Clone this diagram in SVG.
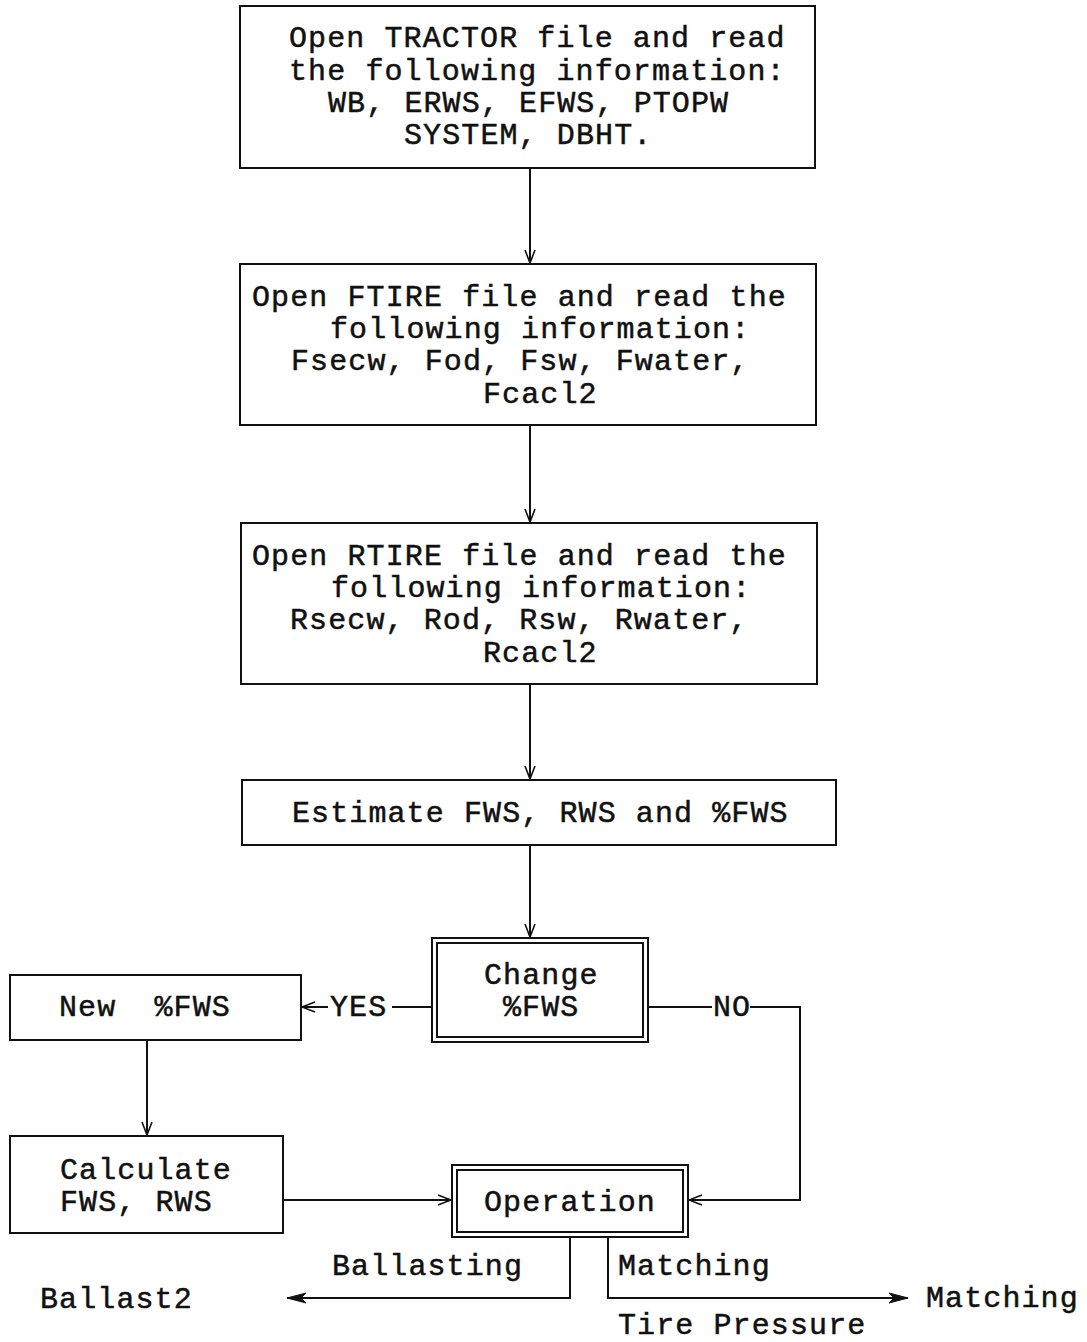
<svg xmlns="http://www.w3.org/2000/svg" width="1087" height="1342" viewBox="0 0 1087 1342">
<style>
  text { font-family: "Liberation Mono", "Courier New", monospace; font-size: 30px; letter-spacing: 1.1px; fill: #111; stroke: #111; stroke-width: 0.5px; }
  .box { fill: #fff; stroke: #111; stroke-width: 2; }
  .ln { fill: none; stroke: #111; stroke-width: 2; }
</style>
<defs>
  <marker id="v" markerWidth="16" markerHeight="12" refX="14" refY="6" orient="auto" markerUnits="userSpaceOnUse">
    <path d="M1,1 L14,6 L1,11" fill="none" stroke="#111" stroke-width="1.6"/>
  </marker>
  <marker id="f" markerWidth="22" markerHeight="12" refX="20" refY="6" orient="auto" markerUnits="userSpaceOnUse">
    <path d="M1,1 L20,6 L1,11 L6,6 Z" fill="#111" stroke="#111" stroke-width="1"/>
  </marker>
</defs>
<rect width="1087" height="1342" fill="#fff"/>

<g id="connectors">
  <line class="ln" x1="530" y1="168" x2="530" y2="263" marker-end="url(#v)"/>
  <line class="ln" x1="530" y1="425" x2="530" y2="522" marker-end="url(#v)"/>
  <line class="ln" x1="530" y1="684" x2="530" y2="779" marker-end="url(#v)"/>
  <line class="ln" x1="530" y1="845" x2="530" y2="937" marker-end="url(#v)"/>
  <line class="ln" x1="432" y1="1007" x2="392" y2="1007"/>
  <line class="ln" x1="328" y1="1007" x2="302" y2="1007" marker-end="url(#v)"/>
  <line class="ln" x1="648" y1="1007" x2="712" y2="1007"/>
  <polyline class="ln" points="750,1007 800,1007 800,1200 689,1200" marker-end="url(#v)"/>
  <line class="ln" x1="147" y1="1040" x2="147" y2="1135" marker-end="url(#v)"/>
  <line class="ln" x1="283" y1="1200" x2="451" y2="1200" marker-end="url(#v)"/>
  <polyline class="ln" points="570,1237 570,1298 287,1298" marker-end="url(#f)"/>
  <polyline class="ln" points="608,1237 608,1298 908,1298" marker-end="url(#f)"/>
  <text x="330" y="1016">YES</text>
  <text x="713" y="1016">NO</text>
  <text x="332" y="1275">Ballasting</text>
  <text x="618" y="1275">Matching</text>
</g>

<g id="tractor">
  <rect class="box" x="240" y="6" width="575" height="162"/>
  <text x="289" y="47">Open TRACTOR file and read</text>
  <text x="289" y="80">the following information:</text>
  <text x="328" y="112">WB, ERWS, EFWS, PTOPW</text>
  <text x="404" y="144">SYSTEM, DBHT.</text>
</g>

<g id="ftire">
  <rect class="box" x="240" y="264" width="576" height="161"/>
  <text x="252" y="306">Open FTIRE file and read the</text>
  <text x="330" y="338">following information:</text>
  <text x="291" y="370">Fsecw, Fod, Fsw, Fwater,</text>
  <text x="483" y="403">Fcacl2</text>
</g>

<g id="rtire">
  <rect class="box" x="241" y="523" width="576" height="161"/>
  <text x="252" y="565">Open RTIRE file and read the</text>
  <text x="331" y="597">following information:</text>
  <text x="290" y="629">Rsecw, Rod, Rsw, Rwater,</text>
  <text x="483" y="662">Rcacl2</text>
</g>

<g id="estimate">
  <rect class="box" x="242" y="780" width="594" height="65"/>
  <text x="292" y="822">Estimate FWS, RWS and %FWS</text>
</g>

<g id="change">
  <rect class="box" x="432" y="938" width="216" height="104"/>
  <rect class="box" x="437" y="943" width="206" height="94"/>
  <text x="484" y="984">Change</text>
  <text x="503" y="1016">%FWS</text>
</g>

<g id="newfws">
  <rect class="box" x="10" y="975" width="291" height="65"/>
  <text x="59" y="1016" xml:space="preserve">New  %FWS</text>
</g>

<g id="calculate">
  <rect class="box" x="10" y="1136" width="273" height="97"/>
  <text x="60" y="1179">Calculate</text>
  <text x="60" y="1211">FWS, RWS</text>
</g>

<g id="operation">
  <rect class="box" x="452" y="1165" width="236" height="72"/>
  <rect class="box" x="457" y="1170" width="226" height="62"/>
  <text x="484" y="1211">Operation</text>
</g>

<g id="ballast2">
  <text x="40" y="1308">Ballast2</text>
</g>

<g id="matching">
  <text x="926" y="1307">Matching</text>
  <text x="618" y="1334">Tire Pressure</text>
</g>
</svg>
